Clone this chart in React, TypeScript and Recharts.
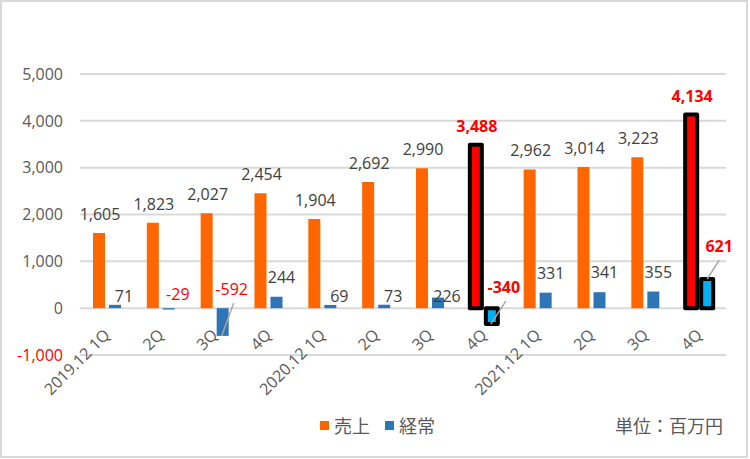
import React from "react";
import {
  BarChart,
  Bar,
  XAxis,
  YAxis,
  CartesianGrid,
  Legend,
  Cell,
  LabelList,
} from "recharts";

const categories = [
  "2019.12 1Q", "2Q", "3Q", "4Q",
  "2020.12 1Q", "2Q", "3Q", "4Q",
  "2021.12 1Q", "2Q", "3Q", "4Q",
];
const sales = [1605, 1823, 2027, 2454, 1904, 2692, 2990, 3488, 2962, 3014, 3223, 4134];
const ordinary = [71, -29, -592, 244, 69, 73, 226, -340, 331, 341, 355, 621];
const yTicks = [-1000, 0, 1000, 2000, 3000, 4000, 5000];
const highlighted = [7, 11];

const data = categories.map((c, i) => ({ cat: c, sales: sales[i], ordinary: ordinary[i] }));

const NUM_FONT = "'Open Sans', 'Noto Sans CJK JP', sans-serif";
const JP_FONT = "'Noto Sans CJK JP', sans-serif";
const GRAY = "#595959";
const LABEL = "#404040";
const fmt = (v: number) => v.toLocaleString("en-US");

const XTick = (props: any) => {
  const { x, y, payload } = props;
  const ax = x + 4;
  const ay = y - 27;
  return (
    <text
      x={ax}
      y={ay}
      transform={`rotate(-45, ${ax}, ${ay})`}
      textAnchor="end"
      fontSize={16}
      fontFamily={NUM_FONT}
      fill={GRAY}
    >
      {payload.value}
    </text>
  );
};

const YTick = (props: any) => {
  const { x, y, payload } = props;
  return (
    <text
      x={x}
      y={y}
      dy="0.36em"
      textAnchor="end"
      fontSize={16}
      fontFamily={NUM_FONT}
      fill={payload.value < 0 ? "#FF0000" : GRAY}
    >
      {fmt(payload.value)}
    </text>
  );
};

const SalesLabel = (props: any) => {
  const { x, y, width, height, value, index } = props;
  const top = Math.min(y, y + height);
  const hl = highlighted.includes(index);
  return (
    <text
      x={x + width / 2 + 1}
      y={top - 13}
      textAnchor="middle"
      fontSize={16}
      fontWeight={hl ? 700 : 400}
      fontFamily={NUM_FONT}
      fill={hl ? "#FF0000" : LABEL}
    >
      {fmt(value)}
    </text>
  );
};

const OrdinaryLabel = (props: any) => {
  const { x, y, width, height, value, index } = props;
  const top = Math.min(y, y + height);
  const bottom = Math.max(y, y + height);
  const cx = x + width / 2;
  const hl = highlighted.includes(index);
  const color = value < 0 || hl ? "#FF0000" : LABEL;
  let lx: number;
  let ly: number;
  let leader: null | [number, number, number, number] = null;
  if (value < 0) {
    lx = cx + (hl ? 12 : 9);
    ly = top - (hl ? 15 : Math.abs(value) > 100 ? 13 : 8);
    if (Math.abs(value) > 100) {
      leader = [lx + 2, ly + 8, cx - 1, bottom];
    }
  } else if (hl) {
    lx = cx + 12;
    ly = top - 27;
    leader = [lx, ly + 8, cx, top];
  } else if (value < 240) {
    lx = cx + 9;
    ly = bottom - 6;
  } else {
    lx = cx + 5;
    ly = top - 14;
  }
  return (
    <g>
      {leader && (
        <line
          x1={leader[0]}
          y1={leader[1]}
          x2={leader[2]}
          y2={leader[3]}
          stroke="#A6A6A6"
          strokeWidth={1.5}
        />
      )}
      <text
        x={lx}
        y={ly}
        textAnchor="middle"
        fontSize={16}
        fontWeight={hl ? 700 : 400}
        fontFamily={NUM_FONT}
        fill={color}
      >
        {fmt(value)}
      </text>
    </g>
  );
};

const LegendContent = (props: any) => {
  const { payload } = props;
  return (
    <div style={{ display: "flex", alignItems: "center", fontFamily: JP_FONT, fontSize: 18, color: GRAY }}>
      {(payload || []).map((p: any, i: number) => (
        <div key={i} style={{ display: "flex", alignItems: "center", marginRight: 15 }}>
          <span style={{ display: "inline-block", width: 9, height: 9, background: p.color, marginRight: 5 }} />
          <span style={{ lineHeight: "20px" }}>{p.value}</span>
        </div>
      ))}
    </div>
  );
};

export default function App() {
  return (
    <div style={{ position: "absolute", left: 0, top: 0, width: 750, height: 459, background: "#fff" }}>
      <div
        style={{
          position: "absolute",
          left: 0,
          top: 0,
          width: 748,
          height: 458,
          border: "2px solid #D9D9D9",
          boxSizing: "border-box",
        }}
      />
      <BarChart
        width={750}
        height={459}
        data={data}
        margin={{ top: 74, right: 24, bottom: 0, left: 0 }}
        barSize={12}
        barGap={4}
      >
        <CartesianGrid horizontal vertical={false} stroke="#D9D9D9" strokeWidth={2} />
        <XAxis
          dataKey="cat"
          height={104}
          interval={0}
          tickLine={false}
          axisLine={false}
          tick={<XTick />}
        />
        <YAxis
          width={80}
          domain={[-1000, 5000]}
          ticks={yTicks}
          tickLine={false}
          axisLine={false}
          tickMargin={11}
          tick={<YTick />}
        />
        <Legend
          layout="horizontal"
          verticalAlign="middle"
          align="center"
          content={<LegendContent />}
          wrapperStyle={{ position: "absolute", left: 320, top: 415, width: 200, bottom: "auto" }}
        />
        <Bar dataKey="sales" name="売上" fill="#FF6600" isAnimationActive={false}>
          {data.map((_, i) => (
            <Cell
              key={i}
              fill={highlighted.includes(i) ? "#FF0000" : "#FF6600"}
              stroke={highlighted.includes(i) ? "#000000" : "none"}
              strokeWidth={highlighted.includes(i) ? 4 : 0}
              strokeLinejoin="round"
            />
          ))}
          <LabelList dataKey="sales" content={<SalesLabel />} />
        </Bar>
        <Bar dataKey="ordinary" name="経常" fill="#2E75B6" isAnimationActive={false}>
          {data.map((_, i) => (
            <Cell
              key={i}
              fill={highlighted.includes(i) ? "#00B0F0" : "#2E75B6"}
              stroke={highlighted.includes(i) ? "#000000" : "none"}
              strokeWidth={highlighted.includes(i) ? 4 : 0}
              strokeLinejoin="round"
            />
          ))}
          <LabelList dataKey="ordinary" content={<OrdinaryLabel />} />
        </Bar>
      </BarChart>
      <div
        style={{
          position: "absolute",
          left: 615,
          top: 412,
          fontFamily: JP_FONT,
          fontSize: 18,
          color: GRAY,
          whiteSpace: "nowrap",
        }}
      >
        単位：百万円
      </div>
    </div>
  );
}
